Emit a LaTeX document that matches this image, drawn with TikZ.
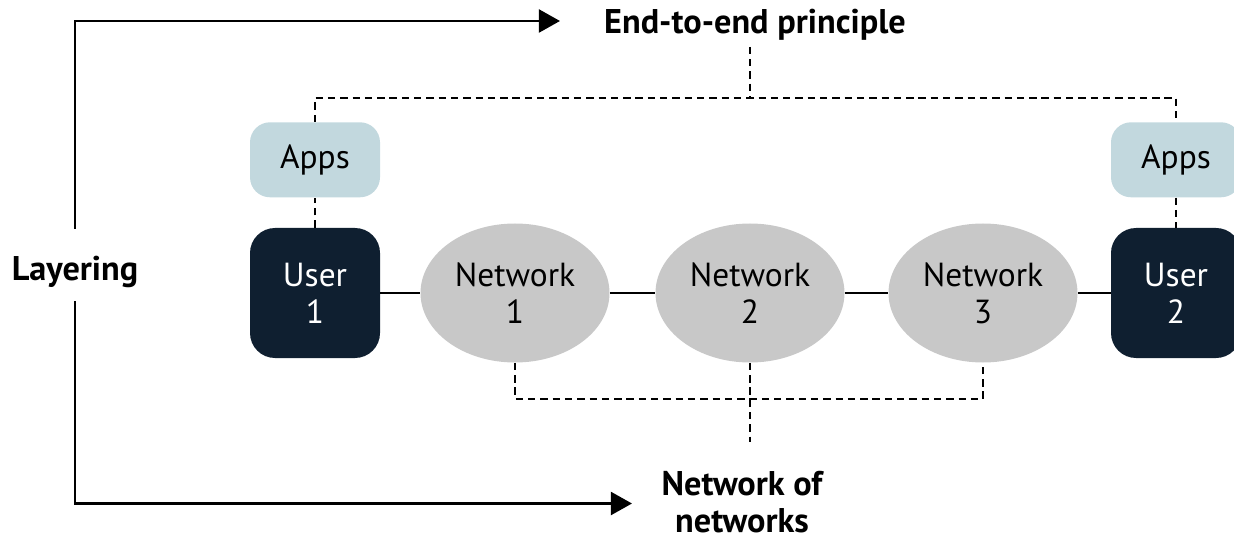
\documentclass[tikz,border=0pt]{standalone}
\usepackage{fontspec}
\setmainfont{PT Sans}
\usetikzlibrary{arrows.meta, positioning, shapes.geometric, calc}
\definecolor{appblue}{HTML}{C2D8DE}
\definecolor{usernavy}{HTML}{0F1F30}
\definecolor{netgray}{HTML}{C8C8C8}
\tikzset{
	appbox/.style={fill=appblue, rounded corners=0.4cm, minimum width=2.6cm, minimum height=1.5cm, font=\fontsize{19}{21}\selectfont},
	userbox/.style={fill=usernavy, text=white, rounded corners=0.5cm, minimum width=2.6cm, minimum height=2.6cm, align=center, font=\fontsize{19}{21}\selectfont},
	netnode/.style={ellipse, fill=netgray, minimum width=3.78cm, minimum height=2.78cm, inner sep=0pt, align=center, font=\fontsize{19}{21}\selectfont},
	headtext/.style={font=\bfseries\fontsize{19.5}{21.5}\selectfont, align=center},
	dashline/.style={line width=1.5pt, dash pattern=on 4.2pt off 2.8pt},
	linkline/.style={line width=1.6pt},
	arrowline/.style={line width=1.6pt, -{Triangle[length=12pt,width=13pt]}}
}
\begin{document}
\begin{tikzpicture}
			\useasboundingbox (0,0) rectangle (24.68,-10.8);
			% Nodes
			\node[userbox] (user1) at (6.3,-5.86) {User\\1};
			\node[userbox] (user2) at (23.52,-5.86) {User\\2};
			\node[appbox, above=0.6cm of user1] (apps1) {Apps};
			\node[appbox, above=0.6cm of user2] (apps2) {Apps};
			\node[netnode] (net1) at (10.3,-5.86) {Network\\1};
			\node[netnode] (net2) at (15.0,-5.86) {Network\\2};
			\node[netnode] (net3) at (19.66,-5.86) {Network\\3};
			
			% Labels
			\node[headtext] (e2e) at (15.1,-0.5) {End-to-end principle};
			\node[headtext, inner ysep=7.5pt] (lay) at (1.5,-5.44) {Layering};
			\node[headtext, inner ysep=1pt] (nofn) at (14.84,-10.04) {Network of\\networks};
			
			\coordinate (toptip) at (11.2,-0.42);
			\coordinate (bottip) at (12.64,-10.07);
			\coordinate (topbar) at (15.0,-1.96);
			\coordinate (botbar) at (15.0,-7.98);
			\coordinate (botend) at (15.0,-8.84);
			
			% Links
			\draw[linkline] (user1) -- (net1) -- (net2) -- (net3) -- (user2);
			
			% Arrows
			\draw[arrowline] ([yshift=8pt]lay.north) |- (toptip);
			\draw[arrowline] (lay.south) |- (bottip);
			
			% End-to-end bracket
			\draw[dashline] (user1) -- (apps1) -- (apps1 |- topbar) -- (apps2 |- topbar) -- (apps2) -- (user2);
			\draw[dashline] (e2e.south -| topbar) -- (topbar);
			
			% Network bracket
			\draw[dashline] (net1.south) -- (net1 |- botbar) -- (net3 |- botbar) -- (net3.south);
			\draw[dashline] (net2.south) -- (botend);
			
		\end{tikzpicture}
\end{document}
